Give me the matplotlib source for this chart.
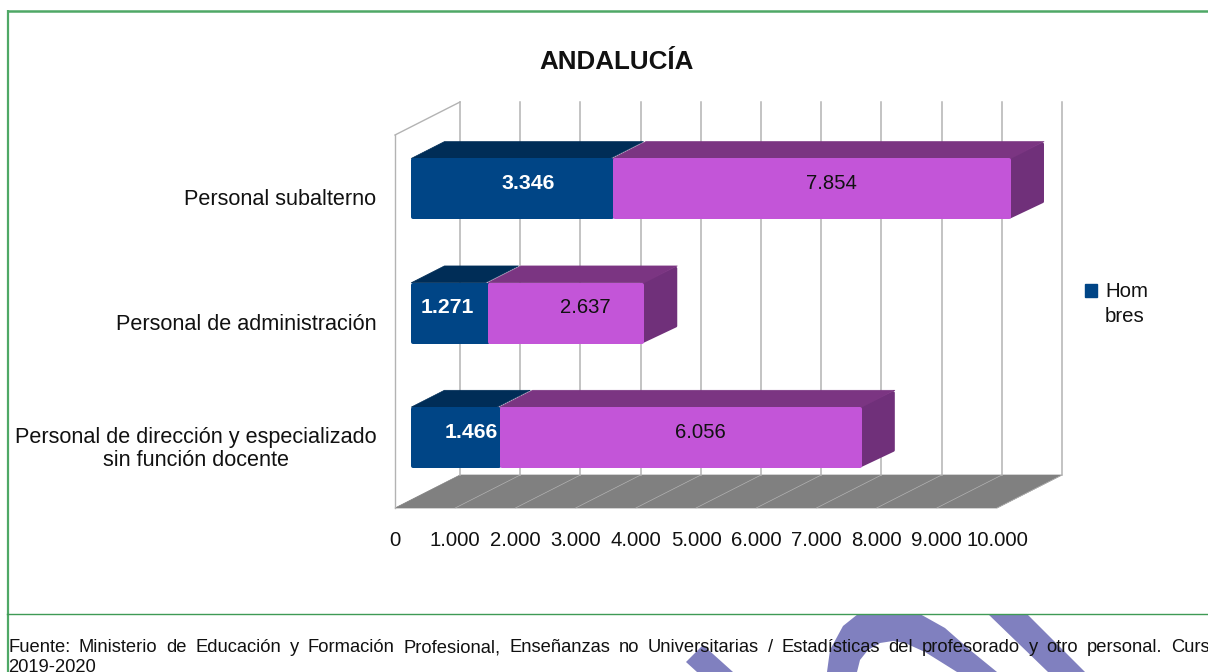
import numpy as np
import matplotlib
matplotlib.use("Agg")
from matplotlib import pyplot as plt
from matplotlib.patches import Polygon, Patch

plt.rcParams['font.family'] = ['Liberation Sans', 'DejaVu Sans']

# data
categorias = ["Personal subalterno", "Personal de administración",
              "Personal de dirección y especializado\nsin función docente"]
hombres = [3346, 1271, 1466]
mujeres = [7854, 2637, 6056]
ticks = [0, 1000, 2000, 3000, 4000, 5000, 6000, 7000, 8000, 9000, 10000]
tick_labels = ["0", "1.000", "2.000", "3.000", "4.000", "5.000", "6.000", "7.000", "8.000", "9.000", "10.000"]
titulo = "ANDALUCÍA"
fuente1 = "Fuente: Ministerio de Educación y Formación Profesional, Enseñanzas no Universitarias / Estadísticas del profesorado y otro personal. Curso"
fuente2 = "2019-2020"

W, H = 1208, 672
AZUL, AZUL_TOP = "#004586", "#002d57"
LILA, LILA_TOP, LILA_SIDE = "#c355d8", "#7b3582", "#70307a"
VERDE = "#4fa866"
GRIS = "#b3b3b3"
WM = "#8080bf"

# plot area in pixels
x0, x1, y_floor, y_top = 395, 997, 508, 135
PXX = (x1 - x0) / 10000
PXY = (y_floor - y_top) / 3
DX = 65 / PXX   # depth of the 3d box, data units
DY = -33 / PXY
VMAX = 10000
BAR_H = 0.49

fig = plt.figure(figsize=(W / 100, H / 100), dpi=100)

# overlay in pixel coords: frame, watermark, footer
bg = fig.add_axes([0, 0, 1, 1], zorder=0)
bg.set_xlim(0, W)
bg.set_ylim(H, 0)
bg.axis("off")

# watermark under the footer
wm_shapes = [
    [(686, 662), (703, 645), (733, 672), (697, 672)],
    [(827, 672), (830, 650), (843, 626), (858, 614), (920, 614), (945, 628), (970, 650), (997, 672),
     (957, 672), (925, 652), (905, 643), (893, 641), (880, 643), (868, 650), (860, 660), (857, 672)],
    [(988, 614), (1027, 614), (1085, 672), (1048, 672)],
]
for s in wm_shapes:
    bg.add_patch(Polygon(s, closed=True, fc=WM, ec="none", zorder=1))

bg.plot([7.5, 7.5], [10, H], color=VERDE, lw=1.6, zorder=2, solid_capstyle="butt")
bg.plot([7, W], [10.5, 10.5], color=VERDE, lw=1.8, zorder=2, solid_capstyle="butt")
bg.plot([7, W], [613.5, 613.5], color="#3f9a55", lw=1, zorder=2)

bg.text(616.5, 62, titulo, fontsize=18.7, fontweight="bold", ha="center", va="center", color="#111111", zorder=3)

# footer, justified by hand
palabras = fuente1.split(" ")
r = fig.canvas.get_renderer()
tx = [bg.text(0, 648, p, fontsize=13.2, va="center", ha="left", color="#111111", zorder=3) for p in palabras]
anchos = [t.get_window_extent(r).width for t in tx]
hueco = (1220 - 8 - sum(anchos)) / (len(palabras) - 1)
pos = 8
for t, a in zip(tx, anchos):
    t.set_x(pos)
    pos = pos + a + hueco
bg.text(8, 668, fuente2, fontsize=13.2, va="center", ha="left", color="#111111", zorder=3)

# chart
ax = fig.add_axes([x0 / W, 1 - y_floor / H, (x1 - x0) / W, (y_floor - y_top) / H], zorder=1)
ax.patch.set_alpha(0)
ax.set_xlim(0, VMAX)
ax.set_ylim(3, 0)
for s in ax.spines.values():
    s.set_visible(False)

ypos = np.arange(len(categorias)) + 0.5
ax.set_xticks(ticks)
ax.set_xticklabels(tick_labels, fontsize=14.6, color="#111111")
ax.set_yticks(ypos)
ax.set_yticklabels(categorias, fontsize=15.6, color="#111111", multialignment="center", linespacing=1.1)
ax.tick_params(axis="x", length=0, pad=16.2)
ax.tick_params(axis="y", length=0, pad=13.3)


def pr(v, y, d):
    # front plane point pushed back by depth d
    return (v + DX * d, y + DY * d)


def poly(pts, color, z, lw=0.5):
    ax.add_patch(Polygon(pts, closed=True, fc=color, ec=color, lw=lw, joinstyle="round", clip_on=False, zorder=z))


def redondo(pts, color, z, r=2.5):
    # offset the outline inwards by r px and stroke it back out, gives round corners
    p = np.array(pts, dtype=float) * [PXX, PXY]
    c = p.mean(axis=0)
    n = len(p)
    out = []
    for i in range(n):
        a, b, d = p[i - 1], p[i], p[(i + 1) % n]
        u = (b - a) / np.linalg.norm(b - a)
        v = (d - b) / np.linalg.norm(d - b)
        nu = np.array([-u[1], u[0]])
        nv = np.array([-v[1], v[0]])
        if np.dot(nu, c - b) < 0:
            nu = -nu
        if np.dot(nv, c - b) < 0:
            nv = -nv
        # move b so it is r away from both edges
        m = np.linalg.solve(np.array([nu, nv]), [r, r])
        out.append(b + m)
    poly(np.array(out) / [PXX, PXY], color, z, lw=2 * r * 0.72)


# walls and floor
poly([pr(0, 3, 0), pr(VMAX, 3, 0), pr(VMAX, 3, 1), pr(0, 3, 1)], "#808080", 1)
ax.plot([0, 0], [0, 3], color=GRIS, lw=1, clip_on=False, zorder=1)
ax.plot(*zip(pr(0, 0, 0), pr(0, 0, 1)), color=GRIS, lw=1, clip_on=False, zorder=1)
for t in ticks:
    ax.plot(*zip(pr(t, 0, 1), pr(t, 3, 1)), color=GRIS, lw=1.1, clip_on=False, zorder=1)
    if t > 0:
        ax.plot(*zip(pr(t, 3, 0), pr(t, 3, 1)), color=GRIS, lw=0.5, clip_on=False, zorder=2)

D1, D2 = 0.25, 0.76


def barra(v0, v1, y, front, top, z, side=None):
    yt, yb = y - BAR_H / 2, y + BAR_H / 2
    if side:
        redondo([pr(v1 - 80, yt, D1), pr(v1 - 80, yb, D1), pr(v1 - 40, yb, D2), pr(v1 - 40, yt, D2)], side, z, r=1.5)
    # top face stays sharp, its front corners are very acute
    poly([pr(v0, yt, D1), pr(v1 - 40, yt, D1), pr(v1 - 40, yt, D2), pr(v0, yt, D2)], top, z + 0.05)
    v1 = v1 - 40 if side else v1 + 30
    redondo([pr(v0, yt, D1), pr(v1, yt, D1), pr(v1, yb, D1), pr(v0, yb, D1)], front, z + 0.1, r=2)


# the stack is clipped at the axis maximum, like the original
shift_label = [0, -18, 0]
for i, y in enumerate(ypos):
    h = hombres[i]
    m = min(hombres[i] + mujeres[i], VMAX)
    barra(0, h, y, AZUL, AZUL_TOP, 3 + i)
    barra(h, m, y, LILA, LILA_TOP, 3.5 + i, side=LILA_SIDE)
    xl, yl = pr(h / 2, y, 0.5)
    ax.annotate(f"{h:,}".replace(",", "."), (xl, yl), xytext=(shift_label[i] * 0.72, -2), textcoords="offset points",
                ha="center", va="center", fontsize=15.3, fontweight="bold", color="white", zorder=10)
    xl, yl = pr((h + m) / 2, y, 0.5)
    ax.annotate(f"{mujeres[i]:,}".replace(",", "."), (xl, yl), xytext=(1.5, -2), textcoords="offset points",
                ha="center", va="center", fontsize=14.6, color="#111111", zorder=10, annotation_clip=False)

leg = fig.legend(handles=[Patch(fc=AZUL, ec=AZUL, label="Hom\nbres")], loc="upper left",
                 bbox_to_anchor=(1081 / W, 1 - 278 / H), frameon=False, fontsize=14.7,
                 handlelength=0.6, handleheight=0.6, handletextpad=0.38, borderpad=0.2, borderaxespad=0)
for t in leg.get_texts():
    t.set_color("#111111")
    t.set_linespacing(1.38)
# square sits next to the first line of the text
for p in leg.get_patches():
    p.set_y(p.get_y() + 10)

fig.savefig("out.png", dpi=100)
